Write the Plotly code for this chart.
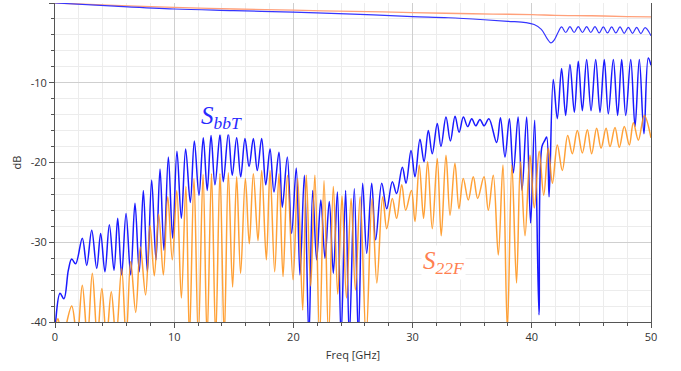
import plotly.graph_objects as go

# ---------------- data ----------------
# S_bbT (blue) : extrema (GHz, dB)
sbbt_f = [0.0, 0.05, 0.42, 0.75, 1.12, 1.4, 1.73, 2.29, 2.66, 3.08, 3.5, 3.83, 4.19, 4.56, 4.95, 5.26, 5.59,
          5.96, 6.35, 6.71, 7.07, 7.41, 7.75, 8.11, 8.47, 8.81, 9.14, 9.51, 9.87, 10.23, 10.6, 10.96, 11.35,
          11.69, 12.08, 12.44, 12.77, 13.09, 13.42, 13.84, 14.12, 14.54, 14.87, 15.24, 15.58, 15.94, 16.28,
          16.64, 16.97, 17.34, 17.68, 18.04, 18.37, 18.79, 19.07, 19.49, 19.85, 20.24, 20.55, 20.92, 21.3,
          21.62, 21.95, 22.3, 22.65, 23.01, 23.35, 23.69, 24.0, 24.38, 24.69, 25.11, 25.45, 25.81, 26.15,
          26.57, 26.9, 27.41, 27.83, 28.3, 28.66, 29.14, 29.45, 29.87, 30.2, 30.62, 30.96, 31.32, 31.65,
          32.07, 32.38, 32.8, 33.17, 33.56, 33.9, 34.26, 34.62, 34.96, 35.3, 35.65, 36.0, 36.4, 37.05,
          37.37, 37.75, 38.12, 38.45, 38.85, 39.18, 39.57, 39.9, 40.24, 40.6, 40.85, 41.1, 41.25, 41.45,
          41.8, 42.14, 42.5, 42.84, 43.2, 43.57, 43.9, 44.24, 44.6, 44.97, 45.36, 45.72, 46.08, 46.42,
          46.84, 47.2, 47.54, 47.88, 48.3, 48.66, 49.02, 49.41, 49.77, 50.0]
sbbt_db = [-41, -40, -36.4, -37.1, -33.5, -32.1, -32.7, -29.5, -32.9, -28.5, -33.3, -28.9, -33.7, -27.8, -33.5,
           -27.0, -34.1, -26.4, -34.1, -25.1, -33.7, -23.5, -33.7, -22.2, -32.2, -20.8, -31.0, -19.3, -29.5,
           -18.6, -27.0, -18.3, -25.0, -17.3, -24.1, -16.9, -23.5, -16.6, -22.8, -16.5, -22.4, -16.4, -21.6,
           -16.9, -21.8, -17.0, -20.5, -17.0, -21.0, -17.0, -22.8, -18.3, -23.7, -18.7, -25.6, -19.3, -28.9,
           -20.7, -34.1, -21.6, -42, -23.5, -32.2, -24.7, -32.0, -24.9, -33.9, -23.7, -42, -23.5, -42,
           -23.3, -42, -22.6, -31.4, -22.6, -29.7, -22.6, -25.8, -22.4, -23.9, -20.6, -22.6, -18.5, -21.8,
           -17.1, -19.9, -16.0, -18.9, -15.1, -18.0, -14.3, -17.3, -14.2, -16.2, -14.3, -15.5, -14.5, -15.4,
           -14.6, -15.4, -14.5, -17.5, -14.4, -19.3, -14.5, -21.3, -14.3, -23.5, -14.3, -27.6, -14.7, -39.1,
           -18.0, -17.2, -16.8, -24.3, -9.6, -14.5, -8.2, -14.1, -7.7, -13.7, -7.3, -13.5, -7.1, -13.5,
           -7.1, -13.7, -7.1, -13.9, -7.1, -14.1, -7.1, -14.1, -7.1, -15.5, -7.1, -16.4, -6.9, -7.8]

# S22F (orange) : extrema (GHz, dB)
s22f_f = [0.0, 0.25, 0.6, 1.4, 1.85, 2.29, 2.72, 3.13, 3.55, 3.93, 4.32, 4.72, 5.12, 5.59, 5.97, 6.35, 6.77,
          7.16, 7.6, 7.97, 8.33, 8.7, 9.09, 9.46, 9.84, 10.22, 10.6, 10.98, 11.28, 11.66, 12.02, 12.42,
          12.76, 13.13, 13.48, 13.84, 14.2, 14.54, 14.9, 15.24, 15.57, 15.97, 16.3, 16.64, 17.03, 17.34,
          17.73, 18.04, 18.43, 18.79, 19.13, 19.5, 19.97, 20.36, 20.78, 21.08, 21.45, 21.8, 22.2, 22.57,
          22.95, 23.35, 23.72, 24.08, 24.45, 24.84, 25.2, 25.6, 26.1, 26.6, 27.0, 27.49, 27.83, 28.3,
          28.66, 29.09, 29.42, 29.9, 30.2, 30.56, 30.92, 31.26, 31.65, 32.07, 32.4, 32.8, 33.14, 33.55,
          33.89, 34.25, 34.67, 35.09, 35.46, 35.99, 36.35, 36.77, 37.19, 37.58, 37.95, 38.33, 38.72, 39.05,
          39.43, 39.85, 40.21, 40.62, 41.0, 41.38, 41.73, 42.14, 42.56, 43.01, 43.4, 43.82, 44.24, 44.66,
          45.02, 45.44, 45.81, 46.23, 46.56, 46.98, 47.34, 47.76, 48.18, 48.52, 48.94, 49.44, 50.0]
s22f_db = [-41, -39.6, -42, -38.0, -42, -35.4, -42, -33.9, -42, -35.8, -42, -36.2, -42, -33.3, -42, -32.4, -38.8,
           -30.6, -36.6, -27.9, -34.2, -26.5, -34.1, -24.3, -32.2, -23.5, -37.0, -23.0, -42, -22.0, -42, -21.5,
           -42, -21.4, -42, -21.4, -42, -21.3, -35.6, -21.8, -33.9, -22.0, -30.2, -21.4, -29.8, -21.0,
           -32.2, -21.0, -33.7, -21.4, -34.3, -21.6, -34.7, -22.0, -38.5, -21.6, -35.5, -21.6, -42, -22.3,
           -42, -23.0, -36.5, -24.2, -37.0, -24.5, -36.0, -24.3, -42, -24.5, -35.1, -24.3, -28.3, -24.5,
           -27.0, -22.8, -26.0, -23.5, -27.4, -20.3, -27.0, -19.9, -28.3, -19.5, -29.2, -19.1, -26.6, -20.1,
           -25.8, -22.0, -24.7, -21.8, -24.5, -21.8, -26.0, -21.6, -31.6, -20.3, -41, -20.3, -35.1, -19.9,
           -29.2, -19.1, -25.7, -18.6, -24.1, -18.2, -22.6, -17.8, -21.0, -16.6, -18.9, -16.0, -18.8, -15.9,
           -18.9, -15.7, -18.2, -15.7, -18.0, -15.6, -18.1, -15.5, -17.8, -15.0, -17.2, -14.1, -16.9]

# near-0 dB traces
top_blue_f = [0, 5, 10, 15, 20, 25, 30, 33, 36, 38, 39.5, 40.2, 40.8, 41.3, 41.6, 41.9, 42.2, 42.5, 42.85,
              43.2, 43.55, 43.9, 44.25, 44.6, 44.95, 45.3, 45.65, 46.0, 46.35, 46.7, 47.05, 47.4, 47.75,
              48.1, 48.45, 48.8, 49.15, 49.5, 50]
top_blue_db = [0, -0.4, -0.75, -0.95, -1.15, -1.4, -1.7, -1.85, -2.1, -2.3, -2.45, -2.7, -3.3, -4.5, -5.0,
               -4.6, -3.7, -3.0, -3.7, -2.95, -3.7, -2.95, -3.7, -2.95, -3.7, -2.95, -3.75, -3.0, -3.75,
               -3.0, -3.75, -3.0, -3.8, -3.05, -3.8, -3.05, -3.85, -3.1, -4.1]
top_orange_f = [0, 5, 10, 15, 20, 25, 30, 35, 40, 42, 45, 48, 50]
top_orange_db = [0, -0.3, -0.55, -0.75, -0.9, -1.05, -1.2, -1.35, -1.45, -1.55, -1.6, -1.7, -1.75]

x_ticks = [0, 10, 20, 30, 40, 50]
y_ticks = [0, -10, -20, -30, -40]

# ---------------- figure ----------------
fig = go.Figure()
fig.add_trace(go.Scatter(x=top_orange_f, y=top_orange_db, mode="lines",
                         line=dict(color="#FFA07A", width=1.3, shape="spline")))
fig.add_trace(go.Scatter(x=top_blue_f, y=top_blue_db, mode="lines",
                         line=dict(color="#3535FF", width=1.2, shape="spline")))
fig.add_trace(go.Scatter(x=sbbt_f, y=sbbt_db, mode="lines",
                         line=dict(color="#1a1aff", width=1.5, shape="spline", smoothing=1.0)))
fig.add_trace(go.Scatter(x=s22f_f, y=s22f_db, mode="lines",
                         line=dict(color="rgba(255,145,20,0.85)", width=1.5, shape="spline", smoothing=1.0)))

fig.add_annotation(x=14.0, y=-14.4, text="<i>S<sub>bbT</sub></i>", showarrow=False,
                   font=dict(family="Liberation Serif, DejaVu Serif, serif", size=25, color="#2a2aff"),
                   bgcolor="white")
fig.add_annotation(x=32.6, y=-32.6, text="<i>S<sub>22F</sub></i>", showarrow=False,
                   font=dict(family="Liberation Serif, DejaVu Serif, serif", size=25, color="#FF7F50"),
                   bgcolor="white")

axis_font = dict(family="Open Sans, DejaVu Sans, sans-serif", size=11, color="#333")
fig.update_xaxes(range=[0, 50], tickvals=x_ticks, ticktext=[str(v) for v in x_ticks],
                 showgrid=True, gridcolor="#cfcfcf", gridwidth=1, automargin=False,
                 minor=dict(dtick=2, showgrid=True, gridcolor="#ececec", ticks="outside", ticklen=3,
                            tickcolor="#555"),
                 ticks="outside", ticklen=5, tickcolor="#555", showline=True, linecolor="#555", linewidth=1,
                 zeroline=False, tickfont=axis_font,
                 title=dict(text="Freq [GHz]", font=axis_font, standoff=8))
fig.update_yaxes(range=[-40, 0], tickvals=y_ticks, ticktext=[str(v) for v in y_ticks],
                 showgrid=True, gridcolor="#cfcfcf", gridwidth=1, automargin=False,
                 minor=dict(dtick=2, showgrid=True, gridcolor="#ececec", ticks="outside", ticklen=3,
                            tickcolor="#555"),
                 ticks="outside", ticklen=5, tickcolor="#555", showline=True, mirror=True,
                 linecolor="#555", linewidth=1, zeroline=False, tickfont=axis_font,
                 title=dict(text="dB", font=axis_font, standoff=6))
fig.update_layout(width=681, height=371, margin=dict(l=55, r=30, t=3, b=49),
                  paper_bgcolor="white", plot_bgcolor="white", showlegend=False)

fig.write_html("out.html", config={"displayModeBar": False})

# remove the browser's default 8px page margin so the chart sits at the window origin
with open("out.html", "r", encoding="utf-8") as fh:
    html = fh.read()
html = html.replace("<body>", '<body style="margin:0;padding:0;overflow:hidden">', 1)
with open("out.html", "w", encoding="utf-8") as fh:
    fh.write(html)
